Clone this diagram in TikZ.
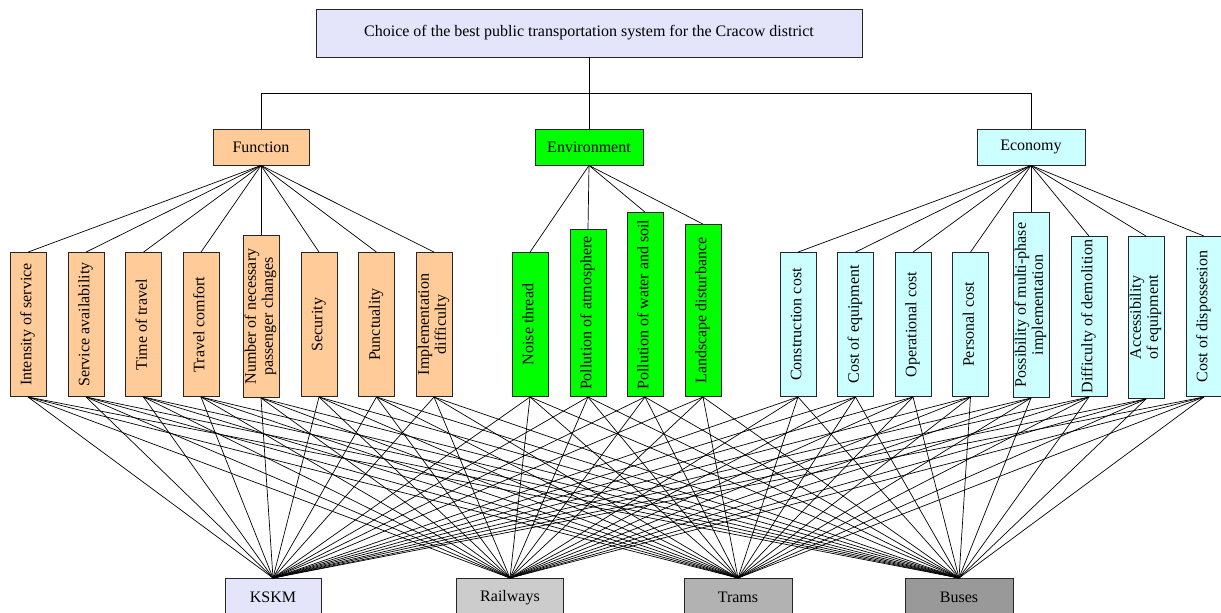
\documentclass[tikz,border=0pt]{standalone}
\usepackage{fontspec}
\setmainfont{Liberation Serif}
\usepackage{graphicx}
\definecolor{lav}{RGB}{228,228,250}
\definecolor{peach}{RGB}{255,204,153}
\definecolor{envgreen}{RGB}{0,255,0}
\definecolor{ecocyan}{RGB}{204,255,255}
\definecolor{railgray}{RGB}{204,204,204}
\definecolor{tramgray}{RGB}{178,178,178}
\definecolor{busgray}{RGB}{153,153,153}
\newcommand{\fs}{\fontsize{16}{17}\selectfont}
\newcommand{\vlab}[1]{\rotatebox{90}{\renewcommand{\arraystretch}{1}\begin{tabular}{@{}c@{}}#1\end{tabular}}}
\tikzset{
  box/.style={draw=black!85, line width=0.9pt, inner sep=0pt, font=\fs},
  leaf/.style={box, minimum width=36pt, anchor=south},
  fleaf/.style={leaf, fill=peach},
  eleaf/.style={leaf, fill=envgreen},
  cleaf/.style={leaf, fill=ecocyan},
  alt/.style={box, anchor=north, minimum height=38pt},
  crit/.style={box, minimum height=36pt},
  conn/.style={draw=black, line width=0.7pt},
}
\begin{document}
\begin{tikzpicture}[x=1pt,y=-1pt]
\useasboundingbox (0,0) rectangle (1221,613);
% goal
\node[box, fill=lav, minimum width=546pt, minimum height=48pt] (goal) at (589,33) {Choice of the best public transportation system for the Cracow district};
% criteria
\node[crit, fill=peach, minimum width=96pt] (fun) at (261,147) {Function};
\node[crit, fill=envgreen, minimum width=108pt] (env) at (589,147) {Environment};
\node[crit, fill=ecocyan, minimum width=108pt] (eco) at (1031,147) {Economy};
\coordinate (bus) at (589,93);
\draw[conn] (goal.south) -- (bus);
\draw[conn] (bus) -| (fun.north);
\draw[conn] (bus) -- (env.north);
\draw[conn] (bus) -| (eco.north);
% function leaves
\node[fleaf, minimum height=144pt] (f1) at (28,397) {\vlab{Intensity of service}};
\node[fleaf, minimum height=144pt] (f2) at (86,397) {\vlab{Service availability}};
\node[fleaf, minimum height=144pt] (f3) at (143.5,397) {\vlab{Time of travel}};
\node[fleaf, minimum height=144pt] (f4) at (201,397) {\vlab{Travel comfort}};
\node[fleaf, minimum height=162pt] (f5) at (261,398) {\vlab{Number of necessary\\passenger changes}};
\node[fleaf, minimum height=144pt] (f6) at (319,397) {\vlab{Security}};
\node[fleaf, minimum height=144pt] (f7) at (376.5,397) {\vlab{Punctuality}};
\node[fleaf, minimum height=144pt] (f8) at (434,397) {\vlab{Implementation\\difficulty}};
% environment leaves
\node[eleaf, minimum height=144pt] (e1) at (530,397) {\vlab{Noise thread}};
\node[eleaf, minimum height=167pt] (e2) at (588,397) {\vlab{Pollution of atmosphere}};
\node[eleaf, minimum height=184pt] (e3) at (645,397) {\vlab{Pollution of water and soil}};
\node[eleaf, minimum height=172pt] (e4) at (703,397) {\vlab{Landscape disturbance}};
% economy leaves
\node[cleaf, minimum height=144pt] (c1) at (798,397) {\vlab{Construction cost}};
\node[cleaf, minimum height=144pt] (c2) at (855.5,397) {\vlab{Cost of equipment}};
\node[cleaf, minimum height=144pt] (c3) at (913,397) {\vlab{Operational cost}};
\node[cleaf, minimum height=144pt] (c4) at (970.5,397) {\vlab{Personal cost}};
\node[cleaf, minimum height=185pt] (c5) at (1031,398) {\vlab{Possibility of multi-phase\\implementation}};
\node[cleaf, minimum height=160pt] (c6) at (1089,397) {\vlab{Difficulty of demolition}};
\node[cleaf, minimum height=162pt] (c7) at (1146,399) {\vlab{Accessibility\\of equipment}};
\node[cleaf, minimum height=160pt] (c8) at (1204,397) {\vlab{Cost of dispossesion}};
% criteria to leaves
\foreach \l in {f1,f2,f3,f4,f5,f6,f7,f8} \draw[conn] (fun.south) -- (\l.north);
\foreach \l in {e1,e2,e3,e4} \draw[conn] (env.south) -- (\l.north);
\foreach \l in {c1,c2,c3,c4,c5,c6,c7,c8} \draw[conn] (eco.south) -- (\l.north);
% alternatives
\node[alt, fill=lav, minimum width=96pt] (a1) at (273,578) {KSKM};
\node[alt, fill=railgray, minimum width=107pt] (a2) at (510,578) {Railways};
\node[alt, fill=tramgray, minimum width=108pt] (a3) at (738,578) {Trams};
\node[alt, fill=busgray, minimum width=108pt] (a4) at (959,578) {Buses};
\foreach \l in {f1,f2,f3,f4,f5,f6,f7,f8,e1,e2,e3,e4,c1,c2,c3,c4,c5,c6,c7,c8}
  \foreach \a in {a1,a2,a3,a4}
    \draw[conn] (\l.south) -- (\a.north);
\end{tikzpicture}
\end{document}
